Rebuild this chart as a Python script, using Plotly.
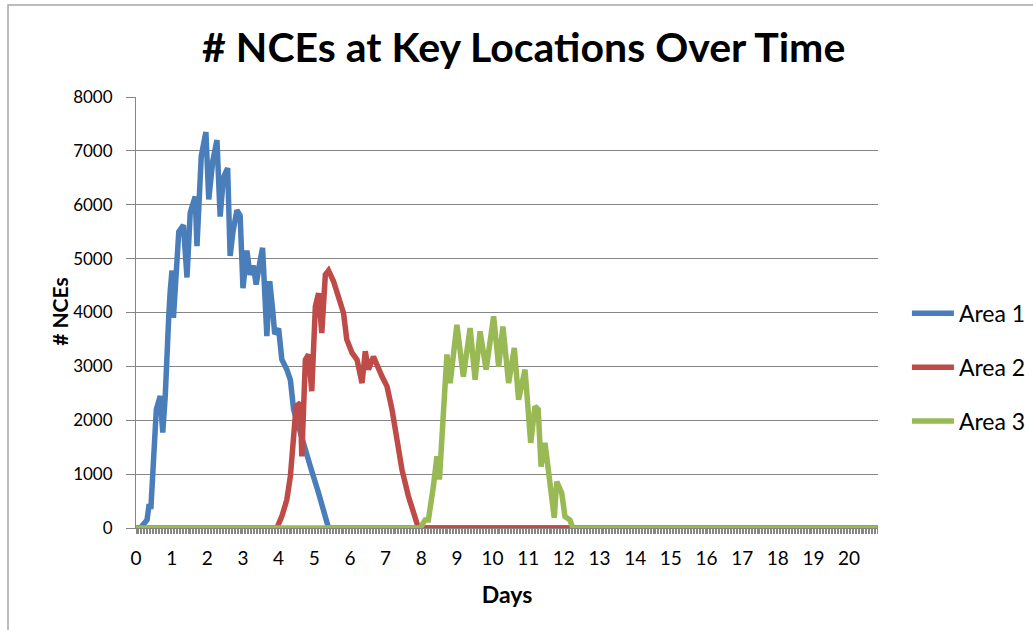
import plotly.graph_objects as go

# ---- data ----
area1_days = [0, 0.12, 0.31, 0.36, 0.42, 0.49, 0.57, 0.68, 0.75, 0.82, 0.87, 0.92, 0.96, 1.01, 1.05,
              1.12, 1.20, 1.33, 1.43, 1.52, 1.66, 1.71, 1.83, 1.96, 2.04, 2.15, 2.27, 2.36, 2.45,
              2.57, 2.64, 2.72, 2.83, 2.92, 3.00, 3.11, 3.20, 3.29, 3.37, 3.47, 3.55, 3.67, 3.75,
              3.84, 3.89, 4.00, 4.09, 4.23, 4.33, 4.42, 4.65, 4.89, 5.12, 5.31, 5.40, 20.8]
area1_nces = [0, 0, 150, 400, 400, 1270, 2200, 2450, 1770, 2450, 3600, 3950, 4400, 4780, 3900,
              4700, 5500, 5620, 4650, 5850, 6150, 5230, 6900, 7350, 6100, 6800, 7200, 5780, 6500,
              6680, 5050, 5500, 5900, 5800, 4450, 5150, 4700, 4870, 4520, 4920, 5200, 3560, 4580,
              4000, 3600, 3700, 3130, 2940, 2750, 2200, 1640, 1140, 650, 150, 0, 0]

area2_days = [0, 3.95, 4.09, 4.23, 4.33, 4.42, 4.49, 4.61, 4.65, 4.75, 4.84, 4.93, 5.03, 5.12, 5.21,
              5.31, 5.40, 5.54, 5.68, 5.82, 5.91, 6.06, 6.20, 6.34, 6.43, 6.52, 6.66, 6.76, 6.90,
              7.04, 7.18, 7.32, 7.46, 7.64, 7.78, 7.92, 20.8]
area2_nces = [0, 0, 215, 525, 960, 1640, 2260, 2320, 1330, 3120, 3220, 2540, 4110, 4360, 3620,
              4700, 4780, 4580, 4300, 3990, 3500, 3250, 3120, 2690, 3280, 2940, 3180, 3000, 2810,
              2630, 2200, 1640, 1080, 590, 280, 0, 0]

area3_days = [0, 7.97, 8.11, 8.20, 8.34, 8.44, 8.51, 8.62, 8.72, 8.81, 9.00, 9.18, 9.37, 9.51, 9.65,
              9.82, 10.03, 10.17, 10.29, 10.45, 10.61, 10.73, 10.91, 11.07, 11.19, 11.28, 11.36,
              11.47, 11.57, 11.73, 11.80, 11.94, 12.03, 12.17, 12.25, 20.8]
area3_nces = [0, 0, 150, 150, 770, 1330, 900, 2380, 3220, 2690, 3770, 2810, 3710, 2750, 3650,
              2940, 3930, 3000, 3740, 2690, 3340, 2380, 2940, 1580, 2260, 2200, 1140,
              1580, 1020, 190, 860, 650, 215, 150, 0, 0]

series_names = ["Area 1", "Area 2", "Area 3"]
series_colors = ["#4A7EBB", "#BE4B48", "#98B954"]
day_ticks = list(range(0, 21))
nce_ticks = [0, 1000, 2000, 3000, 4000, 5000, 6000, 7000, 8000]

FONT = "Lato"
GRAY = "#868686"

fig = go.Figure()
for name, color, xs, ys in zip(series_names, series_colors,
                               [area1_days, area2_days, area3_days],
                               [area1_nces, area2_nces, area3_nces]):
    fig.add_trace(go.Scatter(x=xs, y=ys, mode="lines", name=name, legendgroup=name,
                             line=dict(color=color, width=5.5)))

fig.update_layout(
    width=1033, height=630,
    paper_bgcolor="white", plot_bgcolor="white",
    margin=dict(l=136, r=155, t=97, b=102, autoexpand=False),
    font=dict(family=FONT, color="black", size=19),
    title=dict(text="<b># NCEs at Key Locations Over Time</b>", x=0.507, xanchor="center",
               y=0.925, yanchor="middle", font=dict(family=FONT, size=41, color="black")),
    legend=dict(x=1.039, xanchor="left", y=0.548, yanchor="top", font=dict(size=23),
                tracegroupgap=21, itemwidth=42, bgcolor="rgba(0,0,0,0)"),
    showlegend=True,
)

fig.update_xaxes(
    range=[0, 20.81], tickmode="array", tickvals=day_ticks, ticktext=[str(t) for t in day_ticks],
    showgrid=False, zeroline=False, showline=True, linecolor=GRAY, linewidth=1,
    ticks="outside", ticklen=5, tickcolor=GRAY, tickwidth=1, ticklabelstandoff=8,
    minor=dict(dtick=1/24, ticks="outside", ticklen=5, tickcolor=GRAY, tickwidth=1, showgrid=False),
    title=dict(text="<b>Days</b>", font=dict(size=23), standoff=19),
)
fig.update_yaxes(
    range=[0, 8000], tickmode="array", tickvals=nce_ticks, ticktext=[str(t) for t in nce_ticks],
    showgrid=True, gridcolor=GRAY, gridwidth=1, zeroline=False,
    showline=True, linecolor=GRAY, linewidth=1, tickfont=dict(size=17),
    ticks="outside", ticklen=9, tickcolor=GRAY, tickwidth=1, ticklabelstandoff=10,
)

# y-axis title placed as rotated text to match the reference position
fig.add_annotation(text="<b># NCEs</b>", xref="paper", yref="paper",
                   x=(60 - 136) / 742, y=(528.3 - 312) / 431.3, xanchor="center", yanchor="middle",
                   textangle=-90, showarrow=False, font=dict(size=21, family=FONT, color="black"))

# outer chart border (Excel chart frame)
fig.add_shape(type="rect", xref="paper", yref="paper",
              x0=(8 - 136) / 742, x1=(1050 - 136) / 742,
              y0=(528.3 - 650) / 431.3, y1=(528.3 - 5) / 431.3,
              line=dict(color="#A6A6A6", width=1.5), fillcolor="rgba(0,0,0,0)", layer="below")

fig.write_html("out.html", config={"displayModeBar": False},
               post_script="document.body.style.margin='0px';")
